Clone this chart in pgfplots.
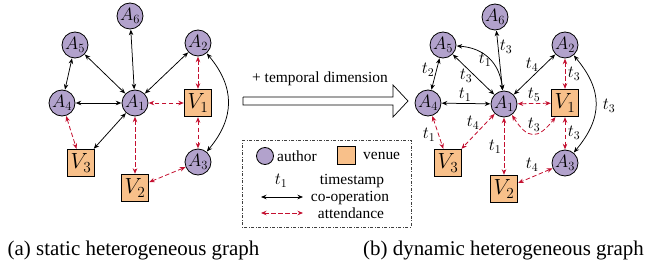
\documentclass[border=0pt]{standalone}
\usepackage{fix-cm}
\usepackage{pgfplots}
\pgfplotsset{compat=1.18}
\usetikzlibrary{arrows.meta}
\usepackage{fontspec}
\setmainfont{Liberation Serif}
\definecolor{authc}{RGB}{178,162,204}
\definecolor{venc}{RGB}{248,192,138}
\definecolor{attc}{RGB}{196,16,48}
\begin{document}
\begin{tikzpicture}[
 co/.style={{Stealth[length=5.5bp,width=4.5bp]}-{Stealth[length=5.5bp,width=4.5bp]}, black, line width=0.75bp},
 att/.style={{Stealth[length=5.5bp,width=4.5bp]}-{Stealth[length=5.5bp,width=4.5bp]}, attc, line width=0.8bp, dash pattern=on 4.5bp off 2.5bp},
 an/.style={circle, minimum size=27bp, inner sep=0pt},
 vn/.style={rectangle, minimum size=28bp, inner sep=0pt},
 tl/.style={font=\fontsize{17}{19}\selectfont, inner sep=0pt},
 tx/.style={font=\fontsize{15.5}{17}\selectfont, inner sep=0pt},
]
\begin{axis}[scale only axis, width=649bp, height=273bp, xmin=0, xmax=649, ymin=0, ymax=273, y dir=reverse, hide axis, clip=false]
\path (axis cs:0,0) rectangle (axis cs:649,273);
% author nodes
\addplot[only marks, mark=*, mark size=13bp, mark options={fill=authc, draw=black, line width=0.8bp},
  point meta=explicit symbolic, nodes near coords,
  every node near coord/.style={anchor=center, font=\fontsize{18}{20}\selectfont, inner sep=0pt}]
  coordinates {(135,103) [$A_1$] (198,43) [$A_2$] (198,162) [$A_3$] (62,103) [$A_4$] (75,45) [$A_5$] (130,16) [$A_6$]
               (504,104) [$A_1$] (565,45) [$A_2$] (565,163) [$A_3$] (428,103) [$A_4$] (443,45) [$A_5$] (495,17) [$A_6$]};
% venue nodes
\addplot[only marks, mark=square*, mark size=13.5bp, mark options={fill=venc, draw=black, line width=0.8bp},
  point meta=explicit symbolic, nodes near coords,
  every node near coord/.style={anchor=center, font=\fontsize{22}{24}\selectfont, inner sep=0pt}]
  coordinates {(198,103) [$V_1$] (135,188) [$V_2$] (81,163) [$V_3$]
               (565,103) [$V_1$] (504,189) [$V_2$] (448,163) [$V_3$]};
% legend markers
\addplot[only marks, mark=*, mark size=8.5bp, mark options={fill=authc, draw=black, line width=0.8bp}] coordinates {(265,156)};
\addplot[only marks, mark=square*, mark size=9bp, mark options={fill=venc, draw=black, line width=0.8bp}] coordinates {(346,155)};
% big arrow
\addplot[black, line width=0.7bp, mark=none] coordinates {(243,97) (393,97) (393,85) (408,101) (393,117) (393,105) (243,105) (243,97)};
% legend box
\addplot[black!75, line width=0.8bp, mark=none, dash pattern=on 3bp off 1.5bp on 1bp off 1.5bp] coordinates {(242,140) (411,140) (411,227) (242,227) (242,140)};

% anchor nodes
\node[an] (LA1) at (axis cs:135,103) {};
\node[an] (LA2) at (axis cs:198,43) {};
\node[an] (LA3) at (axis cs:198,162) {};
\node[an] (LA4) at (axis cs:62,103) {};
\node[an] (LA5) at (axis cs:75,45) {};
\node[an] (LA6) at (axis cs:130,16) {};
\node[vn] (LV1) at (axis cs:198,103) {};
\node[vn] (LV2) at (axis cs:135,188) {};
\node[vn] (LV3) at (axis cs:81,163) {};
\node[an] (RA1) at (axis cs:504,104) {};
\node[an] (RA2) at (axis cs:565,45) {};
\node[an] (RA3) at (axis cs:565,163) {};
\node[an] (RA4) at (axis cs:428,103) {};
\node[an] (RA5) at (axis cs:443,45) {};
\node[an] (RA6) at (axis cs:495,17) {};
\node[vn] (RV1) at (axis cs:565,103) {};
\node[vn] (RV2) at (axis cs:504,189) {};
\node[vn] (RV3) at (axis cs:448,163) {};

% left graph edges
\draw[co] (LA6) -- (LA1);
\draw[co] (LA5) -- (LA1);
\draw[co] (LA2) -- (LA1);
\draw[co] (LA4) -- (LA1);
\draw[co] (LA5) -- (LA4);
\draw[co] (LV3) -- (LA1);
\draw[co] (LA2) to[bend left=40, looseness=1.15] (LA3);
\draw[att] (LV1) -- (LA1);
\draw[att] (LA2) -- (LV1);
\draw[att] (LV1) -- (LA3);
\draw[att] (LA1) -- (LV2);
\draw[att] (LA4) -- (LV3);
\draw[att] (LA3) -- (LV2);

% right graph edges
\draw[co] (RA6) -- (RA1);
\draw[co] (RA5) to[bend left=40, looseness=1.1] (RA1);
\draw[co] (RA5) -- (RA1);
\draw[co] (RA5) -- (RA4);
\draw[co] (RA4) -- (RA1);
\draw[co] (RA2) -- (RA1);
\draw[co] (RA2) to[bend left=40, looseness=1.2] (RA3);
\draw[att] (RV1) -- (RA1);
\draw[att] (RA1) to[bend right=55, looseness=1.7] (RV1);
\draw[att] (RA2) -- (RV1);
\draw[att] (RV1) -- (RA3);
\draw[att] (RA1) -- (RV2);
\draw[att] (RA4) -- (RV3);
\draw[att] (RA1) -- (RV3);
\draw[att] (RA3) -- (RV2);

% edge labels
\node[tl] at (axis cs:506,47) {$t_3$};
\node[tl] at (axis cs:485,60) {$t_1$};
\node[tl] at (axis cs:466,76) {$t_3$};
\node[tl] at (axis cs:428,70) {$t_2$};
\node[tl] at (axis cs:465,95) {$t_1$};
\node[tl] at (axis cs:532,65) {$t_4$};
\node[tl] at (axis cs:609,106) {$t_3$};
\node[tl] at (axis cs:534,95) {$t_5$};
\node[tl] at (axis cs:534,125) {$t_3$};
\node[tl] at (axis cs:574,74) {$t_3$};
\node[tl] at (axis cs:574,133) {$t_3$};
\node[tl] at (axis cs:495,147) {$t_1$};
\node[tl] at (axis cs:429,135) {$t_1$};
\node[tl] at (axis cs:473,123) {$t_4$};
\node[tl] at (axis cs:532,165) {$t_4$};

% arrow text
\node[tx] at (axis cs:320,79) {+ temporal dimension};
% legend
\node[tx, anchor=west] at (axis cs:277,156) {author};
\node[tx, anchor=west] at (axis cs:363,156) {venue};
\node[tl] at (axis cs:281,181) {$t_1$};
\node[tx] at (axis cs:352,181) {timestamp};
\node[tx] at (axis cs:350,198) {co-operation};
\node[tx] at (axis cs:351,213) {attendance};
\draw[co] (axis cs:261,197) -- (axis cs:303,197);
\draw[att] (axis cs:261,213) -- (axis cs:303,213);
% captions
\node[font=\fontsize{21}{24}\selectfont, inner sep=0pt] at (axis cs:133.5,250) {(a) static heterogeneous graph};
\node[font=\fontsize{21}{24}\selectfont, inner sep=0pt] at (axis cs:503.5,250) {(b) dynamic heterogeneous graph};
\end{axis}
\end{tikzpicture}
\end{document}
